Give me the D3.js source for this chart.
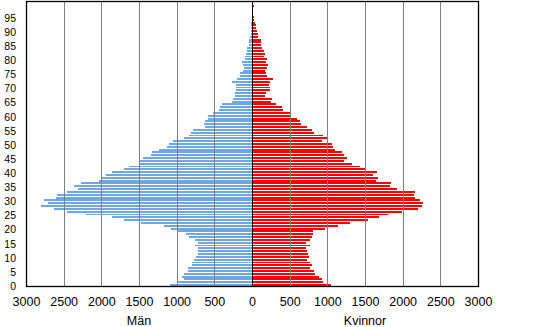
<!DOCTYPE html>
<html>
<head>
<meta charset="utf-8">
<script src="https://cdn.jsdelivr.net/npm/d3@7/dist/d3.min.js"></script>
<style>
  body { margin: 0; background: #fff; }
  text { font-family: "Liberation Sans", Arial, sans-serif; fill: #000; }
</style>
</head>
<body>
<div id="chart"></div>
<script>
// ages 0..99, one bar each
var ages = d3.range(0, 100);

var men = [1093, 991, 903, 934, 907, 854, 854, 801, 792, 774,
           748, 721, 721, 721, 761, 721, 761, 841, 881, 991,
           1080, 1173, 1478, 1704, 1858, 2208, 2460, 2633, 2805, 2712,
           2761, 2606, 2588, 2460, 2314, 2367, 2274, 2035, 2004, 1942,
           1863, 1699, 1637, 1482, 1482, 1451, 1345, 1327, 1239, 1124,
           1106, 1053, 903, 841, 814, 788, 628, 642, 619, 580,
           588, 518, 442, 429, 403, 270, 252, 230, 230, 208,
           208, 208, 270, 204, 164, 164, 124, 111, 124, 137,
           97, 97, 84, 71, 71, 44, 44, 44, 31, 18,
           18, 18, 18, 8, 5, 3, 2, 1, 1, 0];

var women = [1044, 938, 925, 885, 832, 819, 765, 792, 765, 726,
             752, 739, 726, 712, 765, 712, 765, 792, 805, 805,
             965, 1137, 1296, 1535, 1681, 1801, 1987, 2199, 2252, 2265,
             2235, 2159, 2146, 2159, 1920, 1827, 1841, 1642, 1668, 1602,
             1655, 1509, 1429, 1323, 1217, 1257, 1217, 1190, 1097, 1071,
             1058, 925, 991, 938, 819, 792, 726, 646, 633, 593,
             500, 513, 407, 394, 314, 248, 261, 168, 181, 235,
             235, 221, 235, 274, 195, 181, 168, 195, 208, 181,
             195, 155, 168, 155, 128, 115, 115, 115, 75, 75,
             62, 49, 49, 35, 22, 22, 18, 18, 18, 22];

var xTicks = [-3000, -2500, -2000, -1500, -1000, -500, 0, 500, 1000, 1500, 2000, 2500, 3000];
var yTicks = d3.range(0, 100, 5);
var sideLabels = ['Män', 'Kvinnor'];

var width = 553, height = 327;
var plotLeft = 26, plotRight = 478, plotTop = 1, plotBottom = 286;

var svg = d3.select('#chart').append('svg')
    .attr('width', width)
    .attr('height', height);

var x = d3.scaleLinear().domain([-3000, 3000]).range([plotLeft, plotRight]);
// one extra empty row above the oldest age
var y = d3.scaleLinear().domain([0, 101]).range([plotBottom, plotTop]);

function barY (a) { return y(a + 1) + 0.9; }
function barH (a) { return y(a) - y(a + 1) - 0.9; }

svg.append('g')
    .attr('shape-rendering', 'crispEdges')
    .selectAll('rect.men')
    .data(ages)
    .enter()
    .append('rect')
    .attr('class', 'men')
    .attr('x', function (a) { return x(-men[a]); })
    .attr('y', barY)
    .attr('width', function (a) { return x(0) - x(-men[a]); })
    .attr('height', barH)
    .attr('fill', '#6ea7e6');

svg.append('g')
    .attr('shape-rendering', 'crispEdges')
    .selectAll('rect.women')
    .data(ages)
    .enter()
    .append('rect')
    .attr('class', 'women')
    .attr('x', x(0))
    .attr('y', barY)
    .attr('width', function (a) { return x(women[a]) - x(0); })
    .attr('height', barH)
    .attr('fill', '#ff0000');

// grid lines sit on top of the bars
svg.append('g')
    .selectAll('line')
    .data(xTicks.filter(function (t) { return t !== 0 && Math.abs(t) !== 3000; }))
    .enter()
    .append('line')
    .attr('x1', function (t) { return Math.round(x(t)) + 0.5; })
    .attr('x2', function (t) { return Math.round(x(t)) + 0.5; })
    .attr('y1', plotTop)
    .attr('y2', plotBottom)
    .attr('stroke', '#808080')
    .attr('stroke-width', 1);

svg.append('line')
    .attr('x1', Math.round(x(0)) + 0.5)
    .attr('x2', Math.round(x(0)) + 0.5)
    .attr('y1', plotTop)
    .attr('y2', plotBottom)
    .attr('stroke', '#000');

svg.append('rect')
    .attr('x', plotLeft + 0.5)
    .attr('y', plotTop + 0.5)
    .attr('width', plotRight - plotLeft)
    .attr('height', plotBottom - plotTop)
    .attr('fill', 'none')
    .attr('stroke', '#000')
    .attr('stroke-width', 1.3);

var xAxis = svg.append('g')
    .attr('transform', 'translate(0,' + plotBottom + ')')
    .call(d3.axisBottom(x)
        .tickValues(xTicks)
        .tickSize(0)
        .tickPadding(11)
        .tickFormat(function (d) { return Math.abs(d); }));
xAxis.select('.domain').remove();
xAxis.selectAll('text')
    .style('font-size', '12.5px')
    .style('font-family', '"Liberation Sans", Arial, sans-serif')
    .attr('fill', '#000');

var yAxis = svg.append('g')
    .attr('transform', 'translate(' + plotLeft + ',0)')
    .call(d3.axisLeft(y)
        .tickValues(yTicks)
        .tickSize(0)
        .tickPadding(10));
yAxis.select('.domain').remove();
yAxis.selectAll('text')
    .style('font-size', '10.5px')
    .style('font-family', '"Liberation Sans", Arial, sans-serif')
    .attr('fill', '#000');

svg.selectAll('text.side')
    .data(sideLabels)
    .enter()
    .append('text')
    .attr('class', 'side')
    .attr('x', function (d, i) { return i === 0 ? x(-1500) : x(1500); })
    .attr('y', 325)
    .attr('text-anchor', 'middle')
    .style('font-size', '12.5px')
    .text(function (d) { return d; });
</script>
</body>
</html>
